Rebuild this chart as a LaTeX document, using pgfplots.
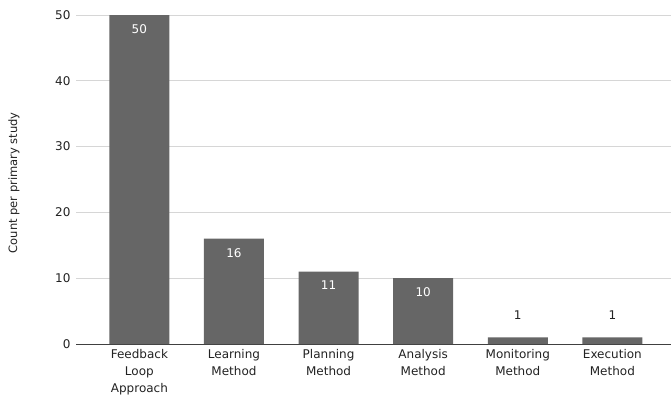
\documentclass[border=0pt]{standalone}
\usepackage{pgfplots}
\pgfplotsset{compat=1.18}
\usepackage{fontspec}
\setmainfont{DejaVu Sans}
\definecolor{barc}{HTML}{666666}
\definecolor{gridc}{HTML}{D6D6D6}
\definecolor{txt}{HTML}{222222}
\begin{document}
\begin{tikzpicture}[x=1pt,y=1pt]
\path[use as bounding box] (0,0) rectangle (671,404);
\begin{axis}[
at={(76pt,60pt)}, anchor=south west,
scale only axis, width=595pt, height=329pt,
xmin=-0.67, xmax=5.62, ymin=0, ymax=50,
ytick={0,10,...,50},
xtick={0,...,5},
xticklabels={Feedback\\Loop\\Approach, Learning\\Method, Planning\\Method, Analysis\\Method, Monitoring\\Method, Execution\\Method},
xticklabel style={align=center, text=txt, font=\fontsize{12}{17}\selectfont, anchor=north, yshift=-2pt},
yticklabel style={text=txt, font=\fontsize{12}{14}\selectfont, xshift=-2pt},
/pgf/number format/assume math mode=true,
axis x line*=bottom, axis y line*=left,
x axis line style={draw=black!75, line width=1pt, -},
y axis line style={draw=none},
major tick length=0pt,
ymajorgrids, grid style={gridc, line width=0.8pt},
ylabel={Count per primary study},
ylabel style={text=txt, font=\fontsize{11.5}{13}\selectfont, at={(-62pt,0.49)}, anchor=center},
ybar, bar width=60pt, bar shift=0pt,
clip=false,
]
\addplot[fill=barc, draw=none, nodes near coords,
  every node near coord/.append style={anchor=north, yshift=-6pt, text=white, font=\fontsize{12}{14}\selectfont}]
  coordinates {(0,50) (1,16) (2,11) (3,10)};
\addplot[fill=barc, draw=none, nodes near coords,
  every node near coord/.append style={anchor=south, yshift=14pt, text=txt, font=\fontsize{12}{14}\selectfont}]
  coordinates {(4,1) (5,1)};
\end{axis}
\end{tikzpicture}
\end{document}
